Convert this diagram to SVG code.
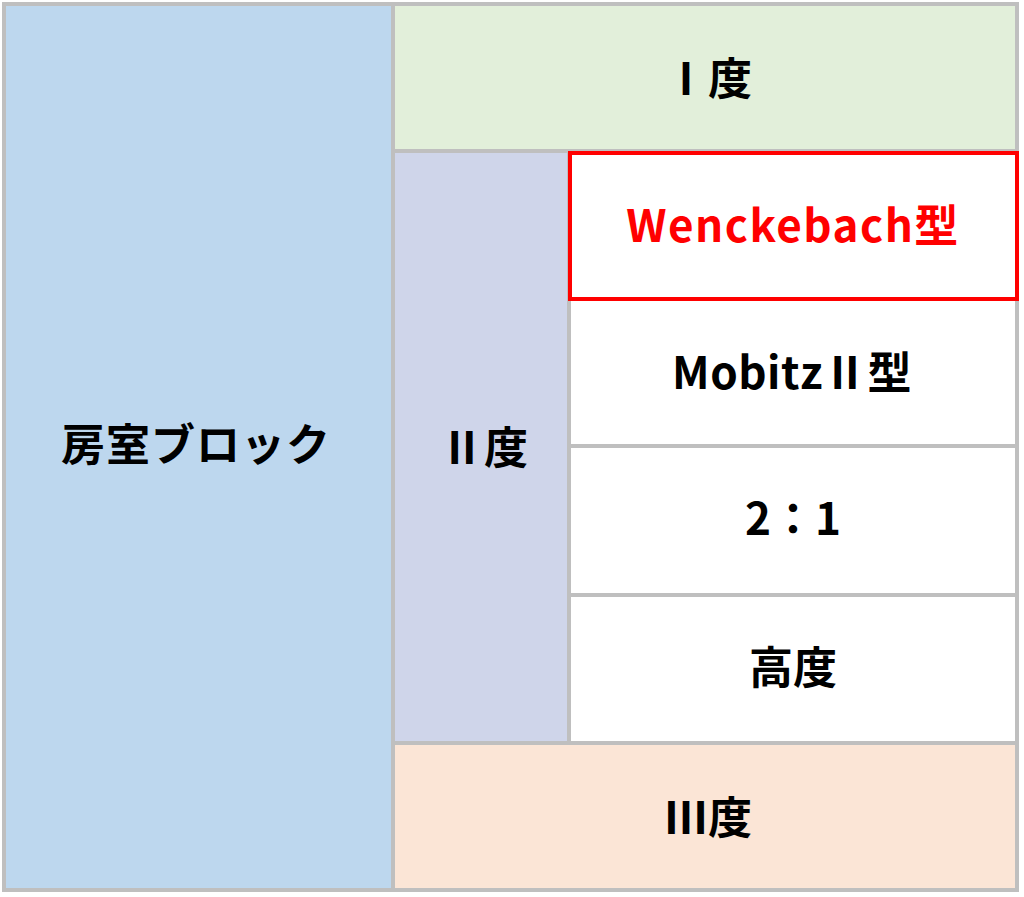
<svg xmlns="http://www.w3.org/2000/svg" width="1024" height="897" viewBox="0 0 1024 897">
<style>
.c{stroke:#BFBFBF;stroke-width:4}
.t{font-family:"Noto Sans CJK JP","Noto Sans",sans-serif;font-weight:bold;font-size:44px;text-anchor:middle;fill:#000}
</style>
<rect width="1024" height="897" fill="#FFFFFF"/>
<g id="node-av-block">
<rect class="c" x="4" y="4" width="389" height="886" fill="#BDD7EE"/>
<text class="t" x="196" y="461" letter-spacing="1">房室ブロック</text>
</g>
<g id="node-first">
<rect class="c" x="393" y="4" width="624" height="147" fill="#E2EFDA"/>
<text class="t" x="708" y="95">Ⅰ度</text>
</g>
<g id="node-second">
<rect class="c" x="393" y="151" width="176" height="592" fill="#CFD5EA"/>
<text class="t" x="484" y="464">Ⅱ度</text>
</g>
<g id="node-mobitz">
<rect class="c" x="569" y="299" width="448" height="147" fill="#FFFFFF"/>
<text class="t" x="792" y="389" letter-spacing="0.5">MobitzⅡ型</text>
</g>
<g id="node-21">
<rect class="c" x="569" y="446" width="448" height="149" fill="#FFFFFF"/>
<text class="t" x="793" y="535">2：1</text>
</g>
<g id="node-high">
<rect class="c" x="569" y="595" width="448" height="148" fill="#FFFFFF"/>
<text class="t" x="793" y="684">高度</text>
</g>
<g id="node-third">
<rect class="c" x="393" y="743" width="624" height="147" fill="#FBE5D6"/>
<text class="t" x="708" y="834">Ⅲ度</text>
</g>
<g id="node-wenckebach">
<rect x="570" y="153" width="447" height="146" fill="#FFFFFF" stroke="#FF0000" stroke-width="4"/>
<text class="t" x="793" y="242" letter-spacing="1.5" style="fill:#FF0000">Wenckebach型</text>
</g>
<g id="connectors"></g>
</svg>
